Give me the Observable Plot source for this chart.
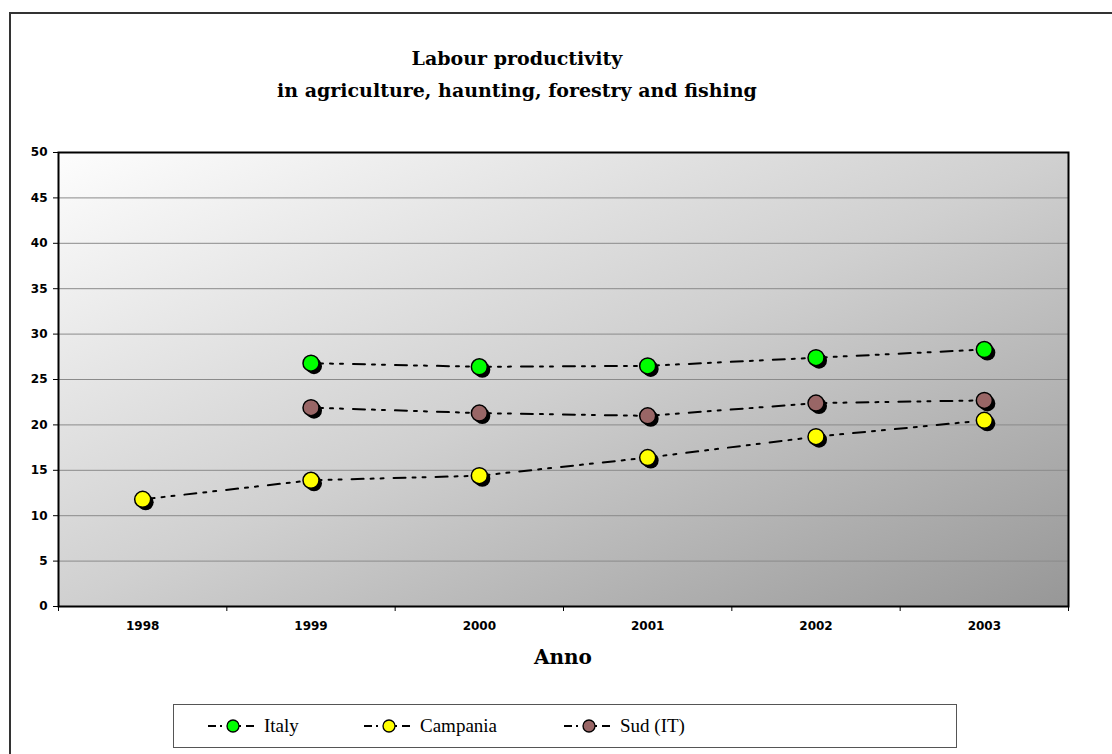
<!DOCTYPE html>
<html><head><meta charset="utf-8">
<script src="https://cdn.jsdelivr.net/npm/d3@7"></script>
<script src="https://cdn.jsdelivr.net/npm/@observablehq/plot@0.6"></script>
<style>
body{margin:0;background:#fff;overflow:hidden;}
#page{position:relative;width:1112px;height:754px;overflow:hidden;background:#fff;}
#frame{position:absolute;left:9px;top:12px;width:1200px;height:800px;border:2px solid #333;box-sizing:border-box;}
#title{position:absolute;left:0;width:1034px;top:42px;text-align:center;font-family:"DejaVu Serif";font-weight:bold;font-size:19px;line-height:32px;color:#000;}
#chart{position:absolute;left:0;top:0;}
#xtitle{position:absolute;left:58px;width:1010px;top:645px;line-height:24px;text-align:center;font-family:"DejaVu Serif";font-weight:bold;font-size:20px;}
#legend{position:absolute;left:173px;top:704px;width:784px;height:44px;border:1px solid #555;box-sizing:border-box;background:#fff;}
.item{position:absolute;top:0;height:42px;display:flex;align-items:center;font-family:"Liberation Serif";font-size:19px;}
.item svg{margin-right:6px;}
</style>
</head><body>
<div id="page">
  <div id="frame"></div>
  <div id="chart"></div>
  <div id="title">Labour productivity<br>in agriculture, haunting, forestry and fishing</div>
  <div id="xtitle">Anno</div>
  <div id="legend"></div>
</div>
<script>
const years = [1998, 1999, 2000, 2001, 2002, 2003];
const italy = [null, 26.8, 26.4, 26.5, 27.4, 28.3];
const campania = [11.8, 13.9, 14.4, 16.4, 18.7, 20.5];
const sud = [null, 21.9, 21.3, 21.0, 22.4, 22.7];
const seriesNames = ["Italy", "Campania", "Sud (IT)"];
const seriesColors = ["#00ff00", "#ffff00", "#996666"];
const yTicks = [0, 5, 10, 15, 20, 25, 30, 35, 40, 45, 50];

const seriesValues = [italy, campania, sud];
const rows = [];
seriesNames.forEach((name, i) => {
  years.forEach((yr, j) => {
    const v = seriesValues[i][j];
    if (v != null) rows.push({series: name, year: yr, value: v});
  });
});
const boundaries = [years[0] - 0.5, ...years.map(y => y + 0.5)];
const dash = "12,7,3,7,3,10";
const axisFont = {fontFamily: "DejaVu Sans", fontSize: 12, fontWeight: "bold"};

const plot = Plot.plot({
  width: 1112,
  height: 680,
  marginTop: 152,
  marginLeft: 58,
  marginRight: 44,
  marginBottom: 74,
  style: {fontFamily: "DejaVu Sans", fontSize: "12px", fontWeight: "bold", color: "#000", background: "transparent"},
  x: {domain: [years[0] - 0.5, years[years.length - 1] + 0.5]},
  y: {domain: [0, 50]},
  color: {domain: seriesNames, range: seriesColors},
  marks: [
    Plot.frame({fill: "url(#bgGrad)"}),
    Plot.ruleY(yTicks.filter(d => d > 0 && d < 50), {stroke: "#8a8a8a", strokeWidth: 1}),
    Plot.line(rows, {x: "year", y: "value", z: "series", stroke: "#000", strokeWidth: 2, strokeDasharray: dash}),
    Plot.dot(rows, {x: "year", y: "value", r: 8, fill: "#000", dx: 3, dy: 3}),
    Plot.dot(rows, {x: "year", y: "value", r: 8, fill: "series", stroke: "#000", strokeWidth: 1.5}),
    Plot.frame({stroke: "#000", strokeWidth: 2}),
    Plot.axisY({ticks: yTicks, tickSize: 5, tickPadding: 6, label: null, stroke: "#000", ...axisFont}),
    Plot.axisX({ticks: boundaries, tickSize: 5, tickFormat: () => "", label: null}),
    Plot.axisX({ticks: years, tickSize: 0, tickPadding: 15, tickFormat: d => String(d), label: null, ...axisFont})
  ]
});

const svg = d3.select(plot);
const grad = svg.insert("defs", ":first-child").append("linearGradient")
  .attr("id", "bgGrad").attr("x1", 0).attr("y1", 0).attr("x2", 1).attr("y2", 1);
grad.append("stop").attr("offset", "0%").attr("stop-color", "#fdfdfd");
grad.append("stop").attr("offset", "50%").attr("stop-color", "#d0d0d0");
grad.append("stop").attr("offset", "100%").attr("stop-color", "#979797");
document.getElementById("chart").appendChild(plot);

// legend
const legend = d3.select("#legend");
const itemLeft = [34, 190, 390];
seriesNames.forEach((name, i) => {
  const item = legend.append("div").attr("class", "item").style("left", itemLeft[i] + "px");
  const s = item.append("svg").attr("width", 50).attr("height", 20);
  s.append("line").attr("x1", 0).attr("x2", 50).attr("y1", 10).attr("y2", 10)
    .attr("stroke", "#000").attr("stroke-width", 2).attr("stroke-dasharray", "8,4,2,5");
  s.append("circle").attr("cx", 25).attr("cy", 10).attr("r", 6)
    .attr("fill", seriesColors[i]).attr("stroke", "#000").attr("stroke-width", 1.3);
  item.append("span").text(name);
});
</script>
</body></html>
